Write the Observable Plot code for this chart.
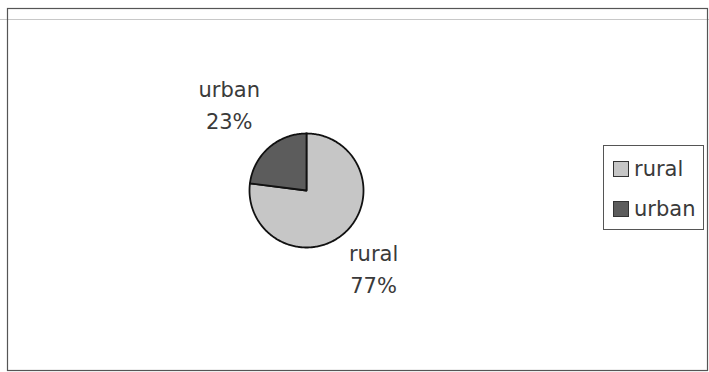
<!DOCTYPE html>
<html>
<head>
<meta charset="utf-8">
<script src="https://cdn.jsdelivr.net/npm/d3@7"></script>
<script src="https://cdn.jsdelivr.net/npm/@observablehq/plot@0.6"></script>
<style>
  html, body { margin: 0; padding: 0; background: #fff; }
  #wrap { position: relative; width: 709px; height: 372px; overflow: hidden; font-family: "DejaVu Sans", sans-serif; }
  #wrap svg { position: absolute; left: 0; top: 0; }
  #rule2 { position: absolute; left: 0; top: 19px; width: 709px; height: 1px; background: #c8c8c8; }
  #legend { position: absolute; left: 603px; top: 145px; width: 99px; height: 83px; border: 1px solid #555; background: #fff; }
  .row { position: absolute; left: 9px; height: 24px; display: flex; align-items: center; }
  .sw { width: 14px; height: 14px; border: 1px solid #333; margin-right: 5px; }
  .lab { font-size: 21px; color: #3a3a3a; line-height: 24px; }
</style>
</head>
<body>
<div id="wrap"><div id="rule2"></div></div>
<script>
// ---- data ----
const categories = ["rural", "urban"];
const values = [77, 23];
const colors = ["#c6c6c6", "#5c5c5c"];

// ---- geometry (unit-radius pie coordinates) ----
const W = 709, H = 372;
const cx = 306, cy = 190, R = 57; // layout of the pie in the frame
const total = d3.sum(values);
const pie = d3.pie().sort(null).value(d => d.value)(categories.map((c, i) => ({name: c, value: values[i]})));

// polygon outline of each slice, angles clockwise from 12 o'clock
const slicePts = [];
pie.forEach(p => {
  const n = Math.max(2, Math.ceil((p.endAngle - p.startAngle) / (Math.PI / 180)));
  slicePts.push({name: p.data.name, x: 0, y: 0});
  for (let k = 0; k <= n; k++) {
    const a = p.startAngle + (p.endAngle - p.startAngle) * k / n;
    slicePts.push({name: p.data.name, x: Math.sin(a), y: Math.cos(a)});
  }
  slicePts.push({name: p.data.name, x: 0, y: 0});
});

// label positions along the mid-angle of each slice
const labelDist = {rural: 1.78, urban: 2.05};
const labels = pie.map(p => {
  const m = (p.startAngle + p.endAngle) / 2;
  const d = labelDist[p.data.name];
  return {name: p.data.name, x: d * Math.sin(m), y: d * Math.cos(m),
          text: p.data.name + "\n" + Math.round(p.data.value / total * 100) + "%"};
});

const chart = Plot.plot({
  width: W, height: H,
  margin: 0,
  x: {domain: [-cx / R, (W - cx) / R], axis: null},
  y: {domain: [-(H - cy) / R, cy / R], axis: null},
  color: {domain: categories, range: colors},
  style: {fontFamily: "DejaVu Sans, sans-serif", background: "transparent"},
  marks: [
    Plot.frame({insetLeft: 7, insetTop: 8, insetRight: 2, insetBottom: 2, stroke: "#555", strokeWidth: 1.2}),
    Plot.line(slicePts, {x: "x", y: "y", z: "name", fill: "name", stroke: "#111", strokeWidth: 1.8, curve: "linear-closed"}),
    Plot.text(labels, {x: "x", y: "y", text: "text", fontSize: 21, lineHeight: 1.52, fill: "#3a3a3a"})
  ]
});
document.getElementById("wrap").appendChild(chart);

// legend
const legend = document.createElement("div");
legend.id = "legend";
categories.forEach((c, i) => {
  const row = document.createElement("div");
  row.className = "row";
  row.style.top = (11 + i * 40) + "px";
  const sw = document.createElement("div");
  sw.className = "sw";
  sw.style.background = colors[i];
  const lab = document.createElement("span");
  lab.className = "lab";
  lab.textContent = c;
  row.appendChild(sw); row.appendChild(lab);
  legend.appendChild(row);
});
document.getElementById("wrap").appendChild(legend);
</script>
</body>
</html>
